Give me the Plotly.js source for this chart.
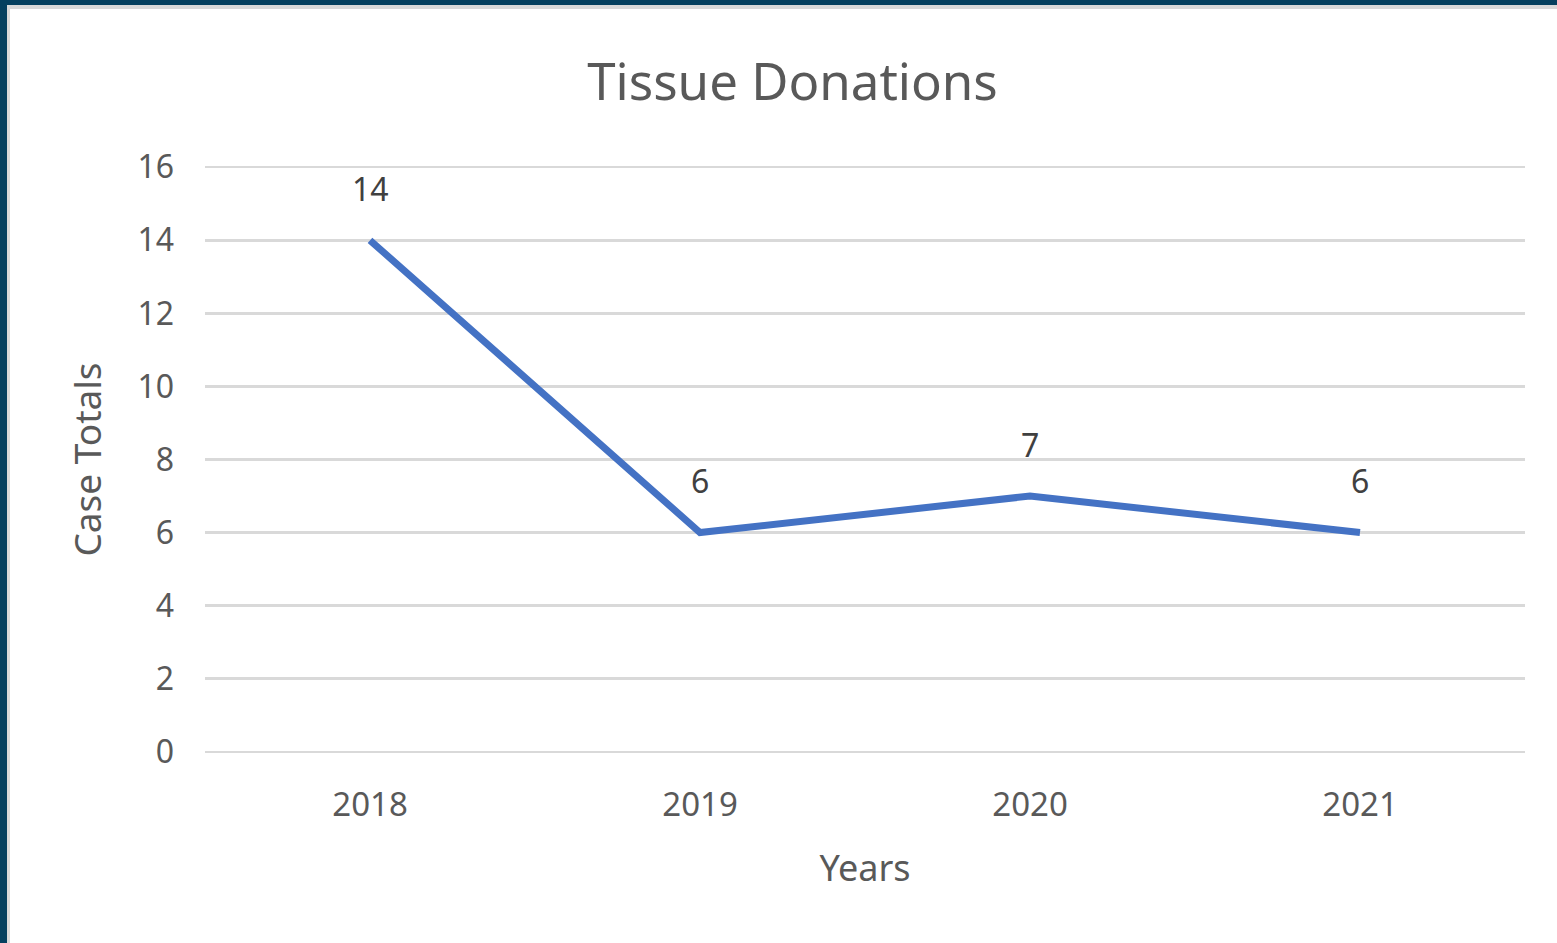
<!DOCTYPE html>
<html>
<head>
<meta charset="utf-8">
<script src="https://cdn.plot.ly/plotly-3.0.1.min.js"></script>
<style>
  html, body { margin: 0; padding: 0; background: #ffffff; overflow: hidden; }
  #chart { position: absolute; left: 0; top: 0; width: 1557px; height: 943px; }
  #frame { position: absolute; left: 0; top: 0; width: 1557px; height: 943px; box-sizing: border-box;
           border-left: 7px solid #05405f; border-top: 5px solid #05405f; pointer-events: none; }
  #inner { position: absolute; left: 0; top: 0; right: 0; bottom: 0;
           border-left: 3px solid #d9d9d9; border-top: 4px solid #d9d9d9; }
</style>
</head>
<body>
<div id="chart"></div>
<div id="frame"><div id="inner"></div></div>
<script>
const years = ["2018", "2019", "2020", "2021"];
const caseTotals = [14, 6, 7, 6];
const yTicks = [0, 2, 4, 6, 8, 10, 12, 14, 16];

const font = "Noto Sans, Open Sans, DejaVu Sans, sans-serif";
const textColor = "#595959";

const trace = {
  x: years,
  y: caseTotals,
  type: "scatter",
  mode: "lines",
  line: { color: "#4472C4", width: 7 },
  hoverinfo: "x+y"
};

const annotations = years.map((yr, i) => ({
  x: i, y: caseTotals[i], xref: "x", yref: "y",
  text: String(caseTotals[i]), showarrow: false,
  yshift: 52, font: { family: font, size: 32, color: "#404040" }
}));

const layout = {
  width: 1557, height: 943,
  margin: { l: 205, r: 32, t: 165, b: 189 },
  paper_bgcolor: "#ffffff", plot_bgcolor: "#ffffff",
  showlegend: false,
  title: {
    text: "Tissue Donations",
    font: { family: font, size: 51, color: textColor },
    xref: "container", yref: "container",
    x: 0.509, xanchor: "center", y: 1 - 82 / 943, yanchor: "middle"
  },
  xaxis: {
    type: "category",
    range: [-0.5, 3.5],
    showgrid: false, zeroline: false, showline: false,
    ticks: "", ticklabelstandoff: 28,
    tickfont: { family: font, size: 33, color: textColor },
    title: { text: "Years", standoff: 30, font: { family: font, size: 36, color: textColor } }
  },
  yaxis: {
    range: [-0.06, 16.06],
    tickvals: yTicks,
    ticktext: yTicks.map(String),
    showgrid: true, gridcolor: "#d9d9d9", gridwidth: 2.5,
    zeroline: false, showline: false,
    ticks: "", ticklabelstandoff: 30,
    tickfont: { family: font, size: 32, color: textColor },
    title: { text: "Case Totals", standoff: 24, font: { family: font, size: 37, color: textColor } }
  },
  annotations: annotations
};

Plotly.newPlot("chart", [trace], layout, { displayModeBar: false, staticPlot: true });
</script>
</body>
</html>
